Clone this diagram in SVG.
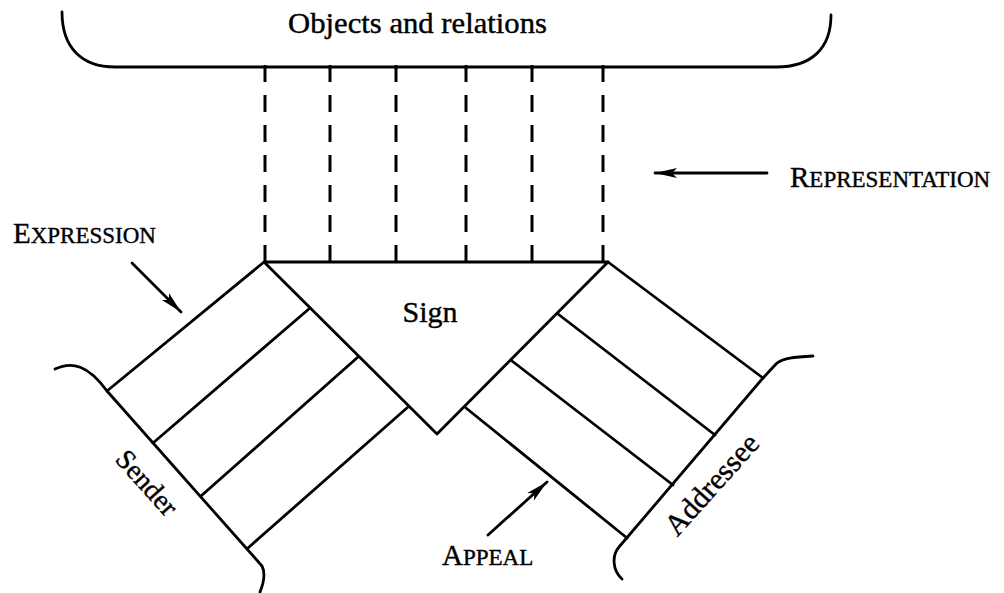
<svg xmlns="http://www.w3.org/2000/svg" width="1004" height="593" viewBox="0 0 1004 593">
<style>
.ln{fill:none;stroke:#000;stroke-width:2.8;stroke-linecap:round;stroke-linejoin:round}
.ds{fill:none;stroke:#000;stroke-width:3;stroke-dasharray:17 13}
.t{font-family:"Liberation Serif","Times New Roman",serif;fill:#000;stroke:#000;stroke-width:0.4}
.big{font-size:29px}
.sm{font-size:23px}
</style>
<defs>
<marker id="ah" markerUnits="userSpaceOnUse" markerWidth="26" markerHeight="14" viewBox="-24 -7 26 14" refX="0" refY="0" orient="auto">
<path d="M0 0 L-22 -5 L-17 0 L-22 5 Z" fill="#000"/>
</marker>
</defs>
<rect width="1004" height="593" fill="#fff"/>
<g id="objects">
<path class="ln" d="M62 12 C62 48 82 67 115 67 L776 67 C812 67 831 48 831 15"/>
<text class="t" x="288" y="33" font-size="29" textLength="259" lengthAdjust="spacingAndGlyphs">Objects and relations</text>
</g>
<g id="connectors">
<line class="ds" x1="265" y1="65" x2="265" y2="262"/>
<line class="ds" x1="330" y1="65" x2="330" y2="262"/>
<line class="ds" x1="396" y1="65" x2="396" y2="262"/>
<line class="ds" x1="466" y1="65" x2="466" y2="262"/>
<line class="ds" x1="532" y1="65" x2="532" y2="262"/>
<line class="ds" x1="603" y1="65" x2="603" y2="262"/>
<line class="ln" x1="767" y1="173" x2="655" y2="173" marker-end="url(#ah)"/>
<line class="ln" x1="132" y1="263" x2="181" y2="312" marker-end="url(#ah)"/>
<line class="ln" x1="488" y1="535" x2="547" y2="482" marker-end="url(#ah)"/>
</g>
<g id="sign">
<path class="ln" d="M264 262 L608 262 L437 434 Z"/>
<text class="t" x="430" y="322" font-size="30" text-anchor="middle">Sign</text>
</g>
<g id="sender">
<path class="ln" d="M107 391 L264 262 M153 443 L310 308 M201 496 L358 357 M248 548 L408 407"/>
<path class="ln" d="M55 369 C72 361 88 365 107 391 L262 566 C265 572 264 582 260 592"/>
<text class="t" font-size="28" text-anchor="middle" transform="translate(140,489) rotate(48)">Sender</text>
</g>
<g id="addressee">
<path class="ln" d="M608 262 L763 378 M558 314 L715 435 M512 361 L673 485 M466 408 L627 538"/>
<path class="ln" d="M813 356 C795 357 782 358 776 364 L763 378 L619 547 C612 555 612 570 622 579"/>
<text class="t" font-size="30" text-anchor="middle" transform="translate(719,491) rotate(-48)">Addressee</text>
</g>
<g id="labels">
<text class="t" x="13" y="243"><tspan class="big">E</tspan><tspan class="sm">XPRESSION</tspan></text>
<text class="t" x="790" y="187"><tspan class="big">R</tspan><tspan class="sm">EPRESENTATION</tspan></text>
<text class="t" x="442" y="565"><tspan class="big">A</tspan><tspan class="sm">PPEAL</tspan></text>
</g>
</svg>
